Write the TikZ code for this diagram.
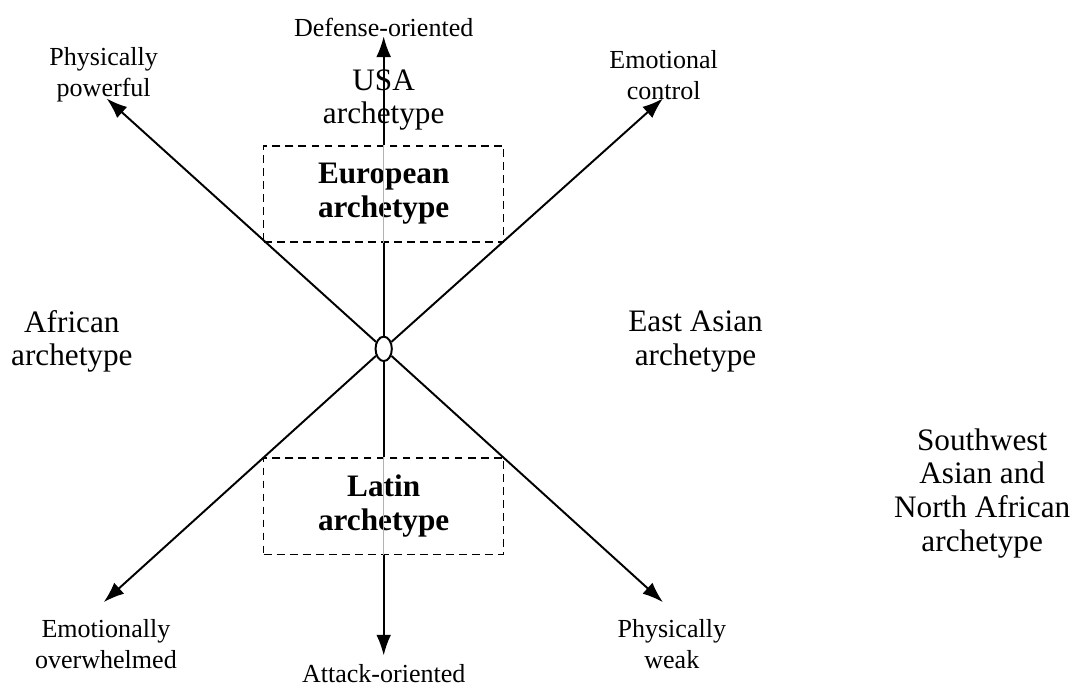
\documentclass[tikz,border=0pt]{standalone}
\usepackage{fontspec}
\setmainfont{Liberation Serif}
\usetikzlibrary{shapes.geometric, arrows.meta}

\tikzset{
    axis/.style={line width=0.75pt, -{Latex[length=2.8mm, width=2.0mm]}},
    small/.style={align=center, font=\fontsize{10}{11.8}\selectfont},
    big/.style={align=center, font=\fontsize{12}{13}\selectfont},
    zone/.style={draw, dash pattern=on 3pt off 2pt, line width=0.6pt,
        minimum width=3.24cm, minimum height=1.30cm, align=center,
        font=\fontsize{12}{13}\selectfont\bfseries}
}

\begin{document}
\begin{tikzpicture}

    \useasboundingbox (0, 0) rectangle (14.54, 9.25);

    % Centre
    \node[draw, ellipse, line width=0.75pt, minimum width=0.22cm, minimum height=0.33cm, inner sep=0pt] (hub) at (5.18, 4.54) {};

    % Dashed boxes
    \node[zone] (euro) at (5.18, 6.63) {European\\archetype};
    \node[zone] (latin) at (5.18, 2.415) {Latin\\archetype};

    % Arrow ends
    \coordinate (top) at (5.18, 8.76);
    \coordinate (bottom) at (5.18, 0.40);
    \coordinate (ul) at (1.44, 7.92);
    \coordinate (ur) at (8.95, 7.92);
    \coordinate (ll) at (1.40, 1.12);
    \coordinate (lr) at (8.95, 1.12);

    % Vertical axis
    \draw[line width=0.75pt] (hub) -- (euro.south);
    \draw[gray!60, line width=0.3pt] (euro.south) -- (euro.north);
    \draw[axis] (euro.north) -- (top);
    \draw[line width=0.75pt] (hub) -- (latin.north);
    \draw[gray!60, line width=0.3pt] (latin.north) -- (latin.south);
    \draw[axis] (latin.south) -- (bottom);

    % Diagonal axes
    \draw[axis] (hub) -- (ul);
    \draw[axis] (hub) -- (ur);
    \draw[axis] (hub) -- (ll);
    \draw[axis] (hub) -- (lr);

    % Axis ends
    \node[small] (defense) at (5.18, 8.88) {Defense-oriented};
    \node[small] (attack) at (5.18, 0.16) {Attack-oriented};
    \node[small] (powerful) at (1.40, 8.24) {Physically\\powerful};
    \node[small] (control) at (8.96, 8.24) {Emotional\\control};
    \node[small] (overwhelmed) at (1.43, 0.55) {Emotionally\\overwhelmed};
    \node[small] (weak) at (9.07, 0.55) {Physically\\weak};

    % Archetypes
    \node[big] (usa) at (5.18, 7.90) {USA\\archetype};
    \node[big] (african) at (0.97, 4.64) {African\\archetype};
    \node[big] (eastasian) at (9.39, 4.64) {East Asian\\archetype};
    \node[big] (swana) at (13.26, 2.59) {Southwest\\Asian and\\North African\\archetype};

\end{tikzpicture}
\end{document}
